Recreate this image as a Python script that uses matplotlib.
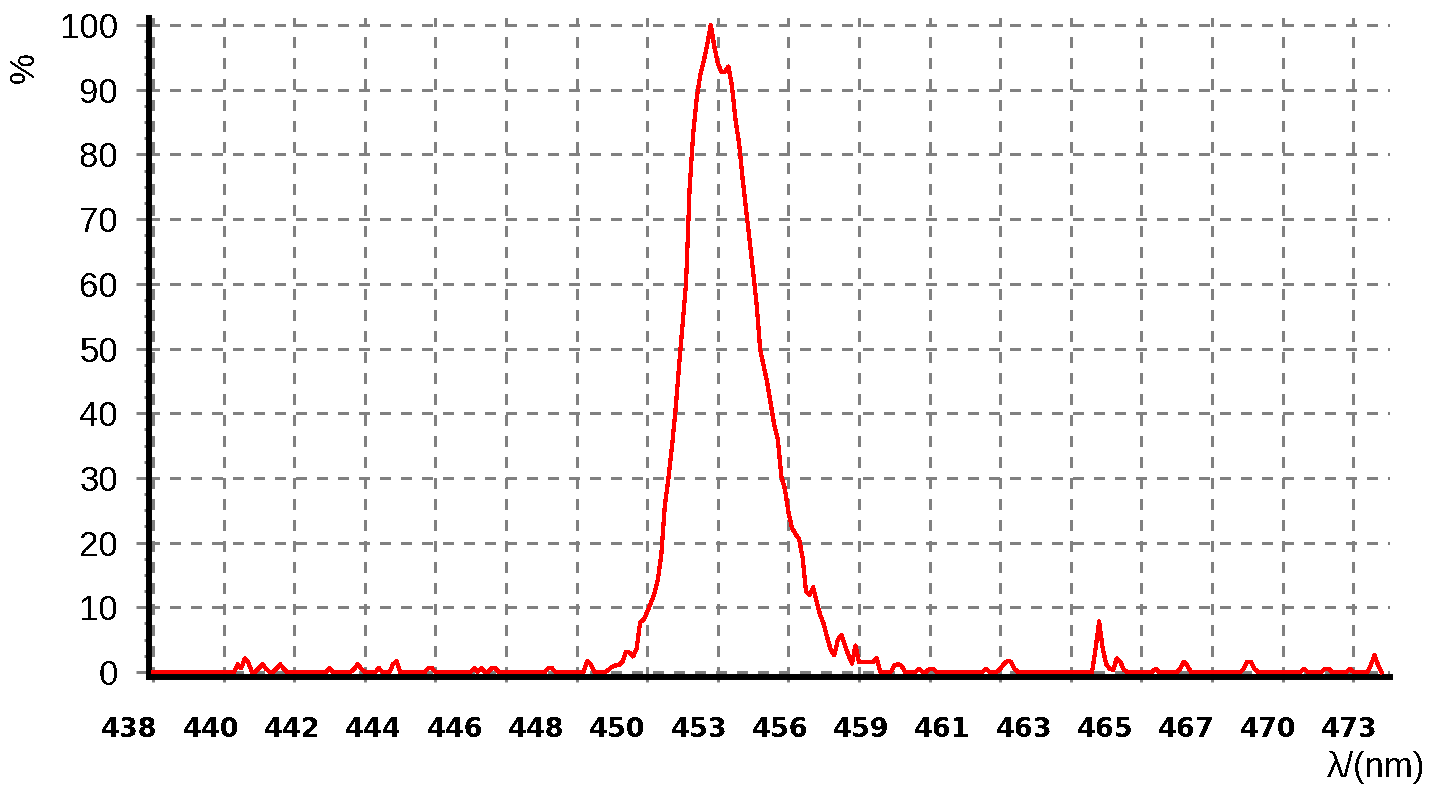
#############################################################################
##### Import python modules
import numpy as np
import matplotlib
matplotlib.use('agg')
import matplotlib.pyplot as plt
from matplotlib.ticker import MultipleLocator
##### Settings
plt.rcParams['lines.scale_dashes'] = False
plt.rcParams['text.antialiased'] = False
#############################################################################
##### Data (% vs detector sample)
n_samples = 349
# main emission peak, consecutive samples starting at peak_start
peak_start = 128
peak_vals = [0.0, 0.3, 0.8, 1.0, 1.1, 1.6, 3.1, 3.0, 2.4, 3.6,
             7.7, 8.1, 9.3, 10.6, 12.1, 14.2, 18.2, 25.8, 29.9, 34.8,
             40.4, 47.2, 53.7, 60.1, 74.7, 83.1, 88.6, 92.2, 94.4, 97.0,
             100.0, 96.7, 94.1, 92.8, 92.8, 93.6, 90.6, 85.4, 81.8, 76.3,
             71.5, 66.7, 61.7, 56.8, 49.8, 47.3, 44.7, 41.4, 38.1, 35.9,
             30.2, 28.3, 24.7, 22.3, 21.3, 20.6, 17.7, 12.4, 11.9, 13.1,
             10.8, 8.8, 7.4, 5.3, 3.4, 2.6, 5.0, 5.7, 4.1, 2.6,
             1.3, 4.1, 1.5, 1.5, 1.5, 1.5, 1.5, 2.2, 0.0]
# small noise bumps on the baseline (everything else is 0)
bump_idx = [24, 25, 26, 27, 30, 31, 32, 35, 36, 37, 50, 57, 58, 59, 64,
            68, 69, 78, 79, 91, 93, 96, 97, 112, 113, 123, 124,
            210, 211, 212, 217, 220, 221, 236, 240, 241, 242, 243, 244,
            267, 268, 269, 270, 271, 272, 273, 274, 275, 284, 291, 292, 293,
            309, 310, 311, 312, 326, 332, 333, 339, 345, 346, 347]
bump_vals = [1.2, 0.6, 2.1, 1.5, 0.6, 1.2, 0.5, 0.5, 1.2, 0.5, 0.6, 0.5, 1.2, 0.5, 0.6,
             1.2, 1.7, 0.6, 0.6, 0.6, 0.6, 0.6, 0.6, 0.6, 0.6, 1.7, 1.2,
             1.0, 1.2, 1.0, 0.5, 0.5, 0.5, 0.5, 0.5, 1.2, 1.7, 1.6, 0.5,
             3.6, 7.8, 3.7, 1.2, 0.5, 0.3, 2.1, 1.6, 0.3, 0.5, 0.5, 1.6, 1.0,
             0.5, 1.6, 1.6, 0.5, 0.5, 0.5, 0.5, 0.5, 1.1, 2.6, 1.1]
wl_labels = ['438', '440', '442', '444', '446', '448', '450', '453',
             '456', '459', '461', '463', '465', '467', '470', '473']
y_ticks = [0, 10, 20, 30, 40, 50, 60, 70, 80, 90, 100]

spectrum = np.zeros(n_samples)
spectrum[bump_idx] = bump_vals
spectrum[peak_start:peak_start + len(peak_vals)] = peak_vals
idx = np.arange(n_samples)
#############################################################################
##### Plotting
W, H = 1450, 787
fig = plt.figure(figsize=(W/100., H/100.), dpi=100)
ax = fig.add_axes([148.5/W, (H-676.5)/H, (1390-148.5)/W, (676.5-18)/H])

grey = '#808080'
ax.plot(idx, spectrum, color='#ff0000', lw=2.3, antialiased=False, zorder=3)
ax.set_xlim(-1.27, 350.4)
ax.set_ylim(-0.7, 101.1)

# grid every 20 samples / 10 %
ax.xaxis.set_major_locator(MultipleLocator(20))
ax.set_xticklabels([])
ax.set_yticks(y_ticks)
ax.yaxis.set_minor_locator(MultipleLocator(2.5))
ax.grid(True, which='major', color=grey, lw=2.16, linestyle=(0, (7.9, 7.7)), antialiased=False)
ax.set_axisbelow(True)

for s in ['top', 'right']:
    ax.spines[s].set_visible(False)
for s in ['left', 'bottom']:
    ax.spines[s].set_linewidth(4.3)
    ax.spines[s].set_color('k')

ax.tick_params(axis='y', which='major', direction='out', length=9.7, width=2.16, color=grey, pad=12.2)
ax.tick_params(axis='y', which='minor', direction='out', length=3.6, width=2.16, color=grey)
ax.tick_params(axis='x', which='major', direction='out', length=3.5, width=2.16, color=grey)
for lab in ax.get_yticklabels():
    lab.set_fontfamily('Liberation Sans')
    lab.set_fontsize(25)

# wavelength labels are spaced independently of the grid
lab_start = -6.66
lab_step = 23.03
for k, lab in enumerate(wl_labels):
    ax.text(lab_start + k*lab_step, -0.081, lab, transform=ax.get_xaxis_transform(),
            ha='center', va='center', fontsize=19.5, fontweight='bold',
            family='DejaVu Sans', clip_on=False)

fig.text(24./W, 1-68./H, '%', rotation=90, ha='center', va='center',
         fontsize=25, family='Liberation Sans')
fig.text(1376./W, 1-768./H, u'\u03bb/(nm)', ha='center', va='center',
         fontsize=25, family='Liberation Sans')

plt.savefig('out.png', dpi=100)
